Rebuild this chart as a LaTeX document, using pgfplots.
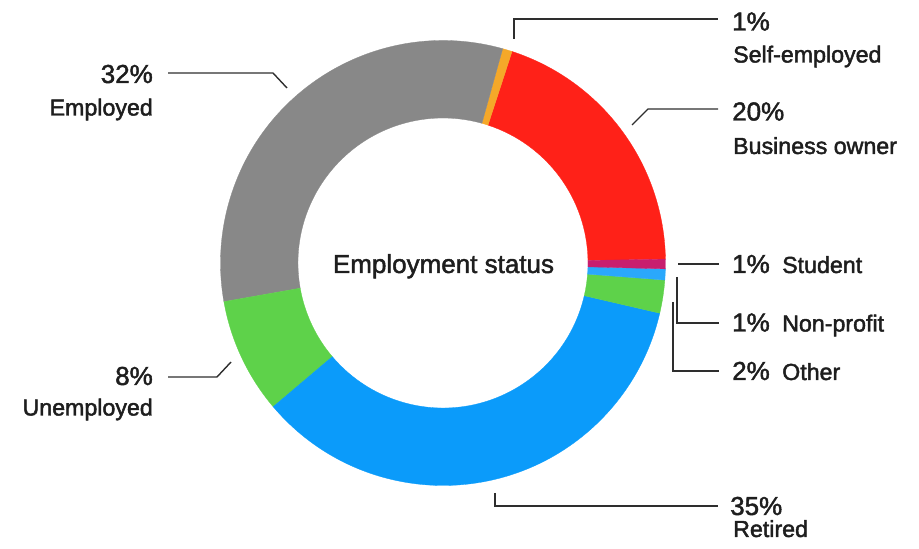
\documentclass[border=0pt]{standalone}
\usepackage{pgfplots}
\usepackage{pgfplotstable}
\pgfplotsset{compat=1.18}
\usepackage{fontspec}
\setmainfont{Liberation Sans}
\definecolor{cRed}{HTML}{FF2118}
\definecolor{cOrange}{HTML}{F5A829}
\definecolor{cGrey}{HTML}{888888}
\definecolor{cGreen}{HTML}{5ED24A}
\definecolor{cBlue}{HTML}{0B9BFA}
\definecolor{cLBlue}{HTML}{2AA8FC}
\definecolor{cMag}{HTML}{C81E6E}
\definecolor{txt}{HTML}{1E1E1E}
\definecolor{lead}{HTML}{2E2E2E}
% share of each slice, counter-clockwise from about 1 degree
\pgfplotstableread{
name value color
Business-owner 19.7 cRed
Self-employed 0.7 cOrange
Employed 32.1 cGrey
Unemployed 8.4 cGreen
Retired 35.2 cBlue
Other 2.4 cGreen
Non-profit 0.8 cLBlue
Student 0.7 cMag
}\slices
\newcommand\heavy{\special{pdf:literal direct 2 Tr 0.45 w}}
\newcommand\numf{\fontsize{26}{31}\selectfont\heavy}
\newcommand\namef{\fontsize{23.2}{28}\selectfont\heavy}
\begin{document}
\begin{tikzpicture}
\begin{axis}[
  at={(0,0)}, anchor=south west,
  scale only axis, width=919pt, height=549pt,
  xmin=0, xmax=919, ymin=0, ymax=549,
  hide axis, clip=false,
]
\pgfplotstablegetrowsof{\slices}
\pgfmathtruncatemacro\nrows{\pgfplotsretval-1}
\gdef\angA{1}
\pgfplotsforeachungrouped \i in {0,...,\nrows}{%
  \pgfplotstablegetelem{\i}{value}\of\slices \let\v\pgfplotsretval
  \pgfplotstablegetelem{\i}{color}\of\slices \let\c\pgfplotsretval
  \pgfmathsetmacro\angB{\angA+3.6*\v}%
  \edef\cmd{\noexpand\fill[\c, draw=\c, line width=0.3pt] (axis cs:443,286) ++(\angA:222.5pt) arc[start angle=\angA, end angle=\angB, radius=222.5pt] -- ([shift={(\angB:145pt)}]axis cs:443,286) arc[start angle=\angB, end angle=\angA, radius=145pt] -- cycle;}%
  \cmd
  \global\let\angA\angB
}
% leader lines
\draw[lead, line width=1.4pt] (axis cs:168,476) -- (axis cs:273,476) -- (axis cs:287,461);
\draw[lead, line width=1.4pt] (axis cs:514,510) -- (axis cs:514,530) -- (axis cs:718,530);
\draw[lead, line width=1.4pt] (axis cs:632,424) -- (axis cs:648,440) -- (axis cs:718,440);
\draw[lead, line width=1.4pt] (axis cs:678,285) -- (axis cs:719,285);
\draw[lead, line width=1.4pt] (axis cs:677,272) -- (axis cs:677,226) -- (axis cs:719,226);
\draw[lead, line width=1.4pt] (axis cs:673,247) -- (axis cs:673,178) -- (axis cs:719,178);
\draw[lead, line width=1.4pt] (axis cs:495,56) -- (axis cs:495,43) -- (axis cs:718,43);
\draw[lead, line width=1.4pt] (axis cs:168,172) -- (axis cs:217,172) -- (axis cs:231,187);
% labels
\node[txt, inner sep=0, anchor=base east] at (axis cs:153,466) {\numf 32\%};
\node[txt, inner sep=0, anchor=base east] at (axis cs:153,433.5) {\namef Employed};
\node[txt, inner sep=0, anchor=base east] at (axis cs:153,164) {\numf 8\%};
\node[txt, inner sep=0, anchor=base east] at (axis cs:153,133.5) {\namef Unemployed};
\node[txt, inner sep=0, anchor=base west] at (axis cs:732,518.5) {\numf 1\%};
\node[txt, inner sep=0, anchor=base west] at (axis cs:733,486.5) {\namef Self-employed};
\node[txt, inner sep=0, anchor=base west] at (axis cs:732,428.5) {\numf 20\%};
\node[txt, inner sep=0, anchor=base west] at (axis cs:733,395) {\namef Business owner};
\node[txt, inner sep=0, anchor=base west] at (axis cs:732,276) {\numf 1\%};
\node[txt, inner sep=0, anchor=base west] at (axis cs:782,276) {\namef Student};
\node[txt, inner sep=0, anchor=base west] at (axis cs:732,217.5) {\numf 1\%};
\node[txt, inner sep=0, anchor=base west] at (axis cs:782,217.5) {\namef Non-profit};
\node[txt, inner sep=0, anchor=base west] at (axis cs:732,169) {\numf 2\%};
\node[txt, inner sep=0, anchor=base west] at (axis cs:782,169) {\namef Other};
\node[txt, inner sep=0, anchor=base west] at (axis cs:730,34) {\numf 35\%};
\node[txt, inner sep=0, anchor=base west] at (axis cs:733,12) {\namef Retired};
\node[txt, inner sep=0, anchor=base] at (axis cs:443.5,276) {\numf Employment status};
\end{axis}
\pgfresetboundingbox
\path[use as bounding box] (0,0) rectangle (919pt,549pt);
\end{tikzpicture}
\end{document}
